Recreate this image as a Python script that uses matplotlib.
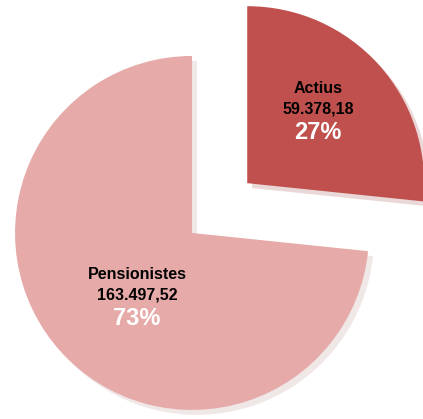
import matplotlib

matplotlib.use("Agg")
import matplotlib.pyplot as plt

labels = ["Actius", "Pensionistes"]
amounts = ["59.378,18", "163.497,52"]
values = [59378.18, 163497.52]
colors = ["#c0504d", "#e6aaa9"]
explode = [0.42, 0.0]

fig = plt.figure(figsize=(4.23, 4.19), dpi=100)
ax = fig.add_axes([0, 0, 1, 1])
wedges, _ = ax.pie(
    values,
    colors=colors,
    explode=explode,
    startangle=90,
    counterclock=False,
    radius=1.0,
    wedgeprops={"linewidth": 0},
    shadow={"ox": 0.02, "oy": -0.02, "shade": 0.2, "alpha": 0.2},
)
ax.set_xlim(-1.085, 1.305)
ax.set_ylim(-1.051, 1.316)
ax.set_aspect("equal")
ax.axis("off")

total = sum(values)
# label offsets relative to each wedge centre (data units)
offsets = [(0.40, 0.535), (-0.31, -0.235)]
font = ["Liberation Sans", "DejaVu Sans"]
for w, lab, amt, v, (dx, dy) in zip(wedges, labels, amounts, values, offsets):
    cx, cy = w.center
    x, y = cx + dx, cy + dy
    ax.text(x, y, lab, ha="center", va="center", fontsize=11.5,
            fontweight="bold", family=font, color="black")
    ax.text(x, y - 0.118, amt, ha="center", va="center", fontsize=11.5,
            fontweight="bold", family=font, color="black")
    ax.text(x, y - 0.25, f"{v / total:.0%}", ha="center", va="center",
            fontsize=17, fontweight="bold", family=font, color="white")

fig.savefig("out.png", dpi=100)
